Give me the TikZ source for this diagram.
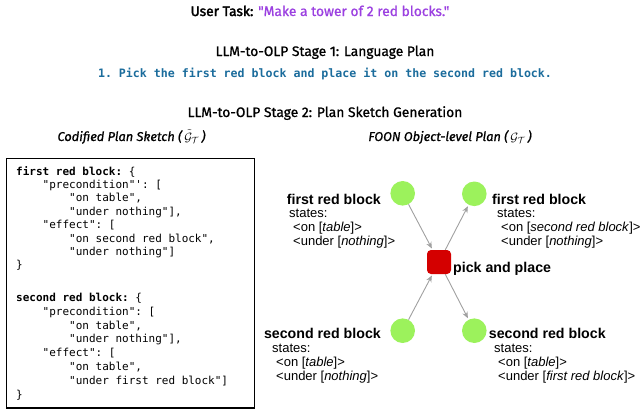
\documentclass[tikz,border=0pt]{standalone}
\usepackage{fontspec}
\setmainfont{Fira Sans}
\setmonofont{DejaVu Sans Mono}
\newfontfamily\headfont[FakeBold=1.0]{Fira Sans}
\newfontfamily\taskfont[FakeBold=2.4]{Fira Sans}
\newfontfamily\arialfont{Liberation Sans}
\usetikzlibrary{arrows.meta}
\definecolor{taskpurple}{HTML}{9B40E0}
\definecolor{planblue}{HTML}{1B6C9C}
\definecolor{nodegreen}{HTML}{9CF25C}
\definecolor{nodered}{HTML}{D40000}
\definecolor{arrgray}{HTML}{A0A0A0}
\tikzset{
  head/.style={anchor=base, inner sep=0pt, font=\headfont\fontsize{13.8}{15}\selectfont},
  subhead/.style={anchor=base, inner sep=0pt, font=\headfont\itshape\fontsize{12.8}{14}\selectfont},
  codeline/.style={anchor=base west, inner sep=0pt, font=\ttfamily\fontsize{11}{12}\selectfont},
  obj/.style={circle, fill=nodegreen, minimum size=24.6pt, inner sep=0pt},
  motion/.style={rectangle, rounded corners=4pt, fill=nodered, minimum size=24pt, inner sep=0pt},
  arr/.style={draw=arrgray, line width=0.9pt, -{Stealth[length=6.5pt,width=5.5pt]}, shorten >=1.5pt},
  ttl/.style={inner sep=0pt, font=\arialfont\bfseries\fontsize{14.2}{16}\selectfont},
  lbl/.style={anchor=base west, inner sep=0pt, font=\arialfont\fontsize{13}{15}\selectfont},
}
\begin{document}
\begin{tikzpicture}[x=1pt,y=-1pt]
\useasboundingbox (0,0) rectangle (640,413);
% headings
\node[head] (task) at (320,16) {{\taskfont User Task:} {\color{taskpurple}"Make a tower of 2 red blocks."}};
\node[head] (st1) at (325,56) {LLM-to-OLP Stage 1: Language Plan};
\node[anchor=base, inner sep=0pt, font=\ttfamily\bfseries\fontsize{11.6}{13}\selectfont, text=planblue] (plan) at (325,77) {1. Pick the first red block and place it on the second red block.};
\node[head] (st2) at (325,117) {LLM-to-OLP Stage 2: Plan Sketch Generation};
\node[subhead] (sub1) at (131.5,141) {Codified Plan Sketch (\,$\tilde{\mathcal{G}}_{\mathcal{T}}$\,)};
\node[subhead] (sub2) at (450,141) {FOON Object-level Plan (\,$\mathcal{G}_{\mathcal{T}}$\,)};
% code box
\node[draw, line width=1.6pt, minimum width=248pt, minimum height=249.5pt, inner sep=0pt, anchor=north west] (box) at (5.5,157.5) {};
\node[codeline] (l1) at (16,175.2) {\textbf{first red block:} \{};
\node[codeline] (l2) at (16,188.6) {\phantom{0000}"precondition"': [};
\node[codeline] (l3) at (16,201.9) {\phantom{00000000}"on table",};
\node[codeline] (l4) at (16,215.3) {\phantom{00000000}"under nothing"],};
\node[codeline] (l5) at (16,228.6) {\phantom{0000}"effect": [};
\node[codeline] (l6) at (16,242.0) {\phantom{00000000}"on second red block",};
\node[codeline] (l7) at (16,255.3) {\phantom{00000000}"under nothing"]};
\node[codeline] (l8) at (16,268.7) {\}};
\node[codeline] (m1) at (16,301.5) {\textbf{second red block:} \{};
\node[codeline] (m2) at (16,315.3) {\phantom{0000}"precondition": [};
\node[codeline] (m3) at (16,329.1) {\phantom{00000000}"on table",};
\node[codeline] (m4) at (16,342.9) {\phantom{00000000}"under nothing"],};
\node[codeline] (m5) at (16,356.7) {\phantom{0000}"effect": [};
\node[codeline] (m6) at (16,370.5) {\phantom{00000000}"on table",};
\node[codeline] (m7) at (16,384.3) {\phantom{00000000}"under first red block"]};
\node[codeline] (m8) at (16,398.8) {\}};
% FOON graph
\node[obj] (c1) at (402.7,193.3) {};
\node[obj] (c2) at (474.3,193.8) {};
\node[obj] (c3) at (402.7,330.7) {};
\node[obj] (c4) at (474.3,330.7) {};
\node[motion] (sq) at (439,262) {};
\draw[arr] (c1) -- (sq);
\draw[arr] (sq) -- (c2);
\draw[arr] (c3) -- (sq);
\draw[arr] (sq) -- (c4);
% labels
\node[ttl, anchor=base east] (t1) at (381,204) {first red block};
\node[lbl] (s1) at (289,217.5) {states:};
\node[lbl] (o1) at (293,231.5) {<on [\textit{table}]>};
\node[lbl] (u1) at (293,245.5) {<under [\textit{nothing}]>};
\node[ttl, anchor=base west] (t2) at (492,204) {first red block};
\node[lbl] (s2) at (497,217.5) {states:};
\node[lbl] (o2) at (501,231.5) {<on [\textit{second red block}]>};
\node[lbl] (u2) at (501,245.5) {<under [\textit{nothing}]>};
\node[ttl, anchor=base west] (pp) at (453,272) {pick and place};
\node[ttl, anchor=base east] (t3) at (381,338) {second red block};
\node[lbl] (s3) at (272,352) {states:};
\node[lbl] (o3) at (276,366) {<on [\textit{table}]>};
\node[lbl] (u3) at (276,380) {<under [\textit{nothing}]>};
\node[ttl, anchor=base west] (t4) at (488.7,338) {second red block};
\node[lbl] (s4) at (494,352) {states:};
\node[lbl] (o4) at (498,366) {<on [\textit{table}]>};
\node[lbl] (u4) at (498,380) {<under [\textit{first red block}]>};
\end{tikzpicture}
\end{document}
